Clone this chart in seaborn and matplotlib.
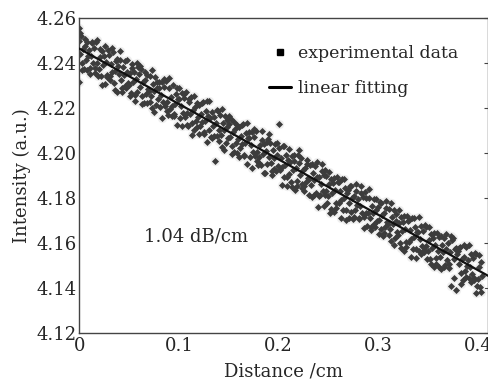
import numpy as np
import pandas as pd
import matplotlib
matplotlib.use("Agg")
import matplotlib.pyplot as plt
from matplotlib.lines import Line2D
from matplotlib.ticker import MultipleLocator
import seaborn as sns

distance = [
    0.000, 0.001, 0.002, 0.003, 0.004, 0.005, 0.006, 0.007, 0.008, 0.009,
    0.010, 0.011, 0.012, 0.013, 0.014, 0.015, 0.016, 0.017, 0.018, 0.019,
    0.020, 0.021, 0.022, 0.023, 0.024, 0.025, 0.026, 0.027, 0.028, 0.029,
    0.030, 0.031, 0.032, 0.033, 0.034, 0.035, 0.036, 0.037, 0.038, 0.039,
    0.040, 0.041, 0.042, 0.043, 0.044, 0.045, 0.046, 0.047, 0.048, 0.049,
    0.050, 0.051, 0.052, 0.053, 0.054, 0.055, 0.056, 0.057, 0.058, 0.059,
    0.060, 0.061, 0.062, 0.063, 0.064, 0.065, 0.066, 0.067, 0.068, 0.069,
    0.070, 0.071, 0.072, 0.073, 0.074, 0.075, 0.076, 0.077, 0.078, 0.079,
    0.080, 0.081, 0.082, 0.083, 0.084, 0.085, 0.086, 0.087, 0.088, 0.089,
    0.090, 0.091, 0.092, 0.093, 0.094, 0.095, 0.096, 0.097, 0.098, 0.099,
    0.100, 0.101, 0.102, 0.103, 0.104, 0.105, 0.106, 0.107, 0.108, 0.109,
    0.110, 0.111, 0.112, 0.113, 0.114, 0.115, 0.116, 0.117, 0.118, 0.119,
    0.120, 0.121, 0.122, 0.123, 0.124, 0.125, 0.126, 0.127, 0.128, 0.129,
    0.130, 0.131, 0.132, 0.133, 0.134, 0.135, 0.136, 0.137, 0.138, 0.139,
    0.140, 0.141, 0.142, 0.143, 0.144, 0.145, 0.146, 0.147, 0.148, 0.149,
    0.150, 0.151, 0.152, 0.153, 0.154, 0.155, 0.156, 0.157, 0.158, 0.159,
    0.160, 0.161, 0.162, 0.163, 0.164, 0.165, 0.166, 0.167, 0.168, 0.169,
    0.170, 0.171, 0.172, 0.173, 0.174, 0.175, 0.176, 0.177, 0.178, 0.179,
    0.180, 0.181, 0.182, 0.183, 0.184, 0.185, 0.186, 0.187, 0.188, 0.189,
    0.190, 0.191, 0.192, 0.193, 0.194, 0.195, 0.196, 0.197, 0.198, 0.199,
    0.200, 0.201, 0.202, 0.203, 0.204, 0.205, 0.206, 0.207, 0.208, 0.209,
    0.210, 0.211, 0.212, 0.213, 0.214, 0.215, 0.216, 0.217, 0.218, 0.219,
    0.220, 0.221, 0.222, 0.223, 0.224, 0.225, 0.226, 0.227, 0.228, 0.229,
    0.230, 0.231, 0.232, 0.233, 0.234, 0.235, 0.236, 0.237, 0.238, 0.239,
    0.240, 0.241, 0.242, 0.243, 0.244, 0.245, 0.246, 0.247, 0.248, 0.249,
    0.250, 0.251, 0.252, 0.253, 0.254, 0.255, 0.256, 0.257, 0.258, 0.259,
    0.260, 0.261, 0.262, 0.263, 0.264, 0.265, 0.266, 0.267, 0.268, 0.269,
    0.270, 0.271, 0.272, 0.273, 0.274, 0.275, 0.276, 0.277, 0.278, 0.279,
    0.280, 0.281, 0.282, 0.283, 0.284, 0.285, 0.286, 0.287, 0.288, 0.289,
    0.290, 0.291, 0.292, 0.293, 0.294, 0.295, 0.296, 0.297, 0.298, 0.299,
    0.300, 0.301, 0.302, 0.303, 0.304, 0.305, 0.306, 0.307, 0.308, 0.309,
    0.310, 0.311, 0.312, 0.313, 0.314, 0.315, 0.316, 0.317, 0.318, 0.319,
    0.320, 0.321, 0.322, 0.323, 0.324, 0.325, 0.326, 0.327, 0.328, 0.329,
    0.330, 0.331, 0.332, 0.333, 0.334, 0.335, 0.336, 0.337, 0.338, 0.339,
    0.340, 0.341, 0.342, 0.343, 0.344, 0.345, 0.346, 0.347, 0.348, 0.349,
    0.350, 0.351, 0.352, 0.353, 0.354, 0.355, 0.356, 0.357, 0.358, 0.359,
    0.360, 0.361, 0.362, 0.363, 0.364, 0.365, 0.366, 0.367, 0.368, 0.369,
    0.370, 0.371, 0.372, 0.373, 0.374, 0.375, 0.376, 0.377, 0.378, 0.379,
    0.380, 0.381, 0.382, 0.383, 0.384, 0.385, 0.386, 0.387, 0.388, 0.389,
    0.390, 0.391, 0.392, 0.393, 0.394, 0.395, 0.396, 0.397, 0.398, 0.399,
    0.400, 0.401, 0.402, 0.403, 0.404,
    0.000, 0.000,
]
intensity = [
    4.2500, 4.2443, 4.2520, 4.2403, 4.2465, 4.2373, 4.2475, 4.2413, 4.2495, 4.2433,
    4.2460, 4.2378, 4.2430, 4.2488, 4.2400, 4.2468, 4.2380, 4.2493, 4.2400, 4.2343,
    4.2376, 4.2429, 4.2341, 4.2454, 4.2391, 4.2434, 4.2306, 4.2404, 4.2346, 4.2459,
    4.2436, 4.2344, 4.2396, 4.2359, 4.2451, 4.2314, 4.2366, 4.2409, 4.2271, 4.2389,
    4.2351, 4.2414, 4.2326, 4.2274, 4.2381, 4.2349, 4.2411, 4.2289, 4.2361, 4.2314,
    4.2302, 4.2355, 4.2267, 4.2380, 4.2317, 4.2360, 4.2232, 4.2330, 4.2272, 4.2385,
    4.2352, 4.2295, 4.2372, 4.2255, 4.2317, 4.2225, 4.2327, 4.2265, 4.2347, 4.2285,
    4.2278, 4.2341, 4.2253, 4.2201, 4.2308, 4.2276, 4.2338, 4.2216, 4.2288, 4.2241,
    4.2288, 4.2206, 4.2258, 4.2316, 4.2228, 4.2296, 4.2208, 4.2321, 4.2228, 4.2171,
    4.2288, 4.2196, 4.2248, 4.2211, 4.2303, 4.2166, 4.2218, 4.2261, 4.2123, 4.2241,
    4.2239, 4.2157, 4.2209, 4.2267, 4.2179, 4.2247, 4.2159, 4.2272, 4.2179, 4.2122,
    4.2229, 4.2172, 4.2249, 4.2132, 4.2194, 4.2102, 4.2204, 4.2142, 4.2224, 4.2162,
    4.2214, 4.2122, 4.2174, 4.2137, 4.2229, 4.2092, 4.2144, 4.2187, 4.2049, 4.2167,
    4.2105, 4.2158, 4.2070, 4.2183, 4.2120, 4.2163, 4.1965, 4.2133, 4.2075, 4.2188,
    4.2105, 4.2168, 4.2080, 4.2028, 4.2135, 4.2103, 4.2165, 4.2043, 4.2115, 4.2068,
    4.2131, 4.2074, 4.2151, 4.2034, 4.2096, 4.2004, 4.2106, 4.2044, 4.2126, 4.2064,
    4.2116, 4.2024, 4.2076, 4.2039, 4.2131, 4.1994, 4.2046, 4.2089, 4.1951, 4.2069,
    4.2066, 4.1984, 4.2036, 4.2094, 4.2006, 4.2074, 4.1986, 4.2099, 4.2006, 4.1949,
    4.1982, 4.2035, 4.1947, 4.2060, 4.1997, 4.2040, 4.1912, 4.2010, 4.1952, 4.2065,
    4.1982, 4.2045, 4.1957, 4.1905, 4.2012, 4.1980, 4.2042, 4.1920, 4.1992, 4.1945,
    4.2130, 4.1925, 4.1977, 4.1940, 4.2032, 4.1895, 4.1947, 4.1990, 4.1852, 4.1970,
    4.1908, 4.1961, 4.1873, 4.1986, 4.1923, 4.1966, 4.1838, 4.1936, 4.1878, 4.1991,
    4.1958, 4.1901, 4.1978, 4.1861, 4.1923, 4.1831, 4.1933, 4.1871, 4.1953, 4.1891,
    4.1884, 4.1947, 4.1859, 4.1807, 4.1914, 4.1882, 4.1944, 4.1822, 4.1894, 4.1760,
    4.1894, 4.1812, 4.1864, 4.1922, 4.1834, 4.1902, 4.1814, 4.1927, 4.1834, 4.1777,
    4.1809, 4.1862, 4.1734, 4.1887, 4.1824, 4.1867, 4.1739, 4.1837, 4.1779, 4.1892,
    4.1870, 4.1778, 4.1830, 4.1793, 4.1885, 4.1748, 4.1800, 4.1843, 4.1705, 4.1823,
    4.1835, 4.1778, 4.1855, 4.1738, 4.1800, 4.1708, 4.1810, 4.1748, 4.1830, 4.1768,
    4.1795, 4.1713, 4.1765, 4.1823, 4.1735, 4.1803, 4.1715, 4.1828, 4.1735, 4.1678,
    4.1736, 4.1799, 4.1711, 4.1659, 4.1766, 4.1734, 4.1796, 4.1674, 4.1746, 4.1699,
    4.1761, 4.1704, 4.1781, 4.1664, 4.1726, 4.1634, 4.1736, 4.1674, 4.1756, 4.1694,
    4.1687, 4.1750, 4.1662, 4.1610, 4.1717, 4.1685, 4.1747, 4.1625, 4.1697, 4.1650,
    4.1637, 4.1690, 4.1602, 4.1715, 4.1652, 4.1695, 4.1567, 4.1665, 4.1607, 4.1720,
    4.1697, 4.1605, 4.1657, 4.1620, 4.1712, 4.1575, 4.1627, 4.1670, 4.1532, 4.1650,
    4.1648, 4.1566, 4.1618, 4.1676, 4.1588, 4.1656, 4.1568, 4.1681, 4.1588, 4.1531,
    4.1563, 4.1616, 4.1528, 4.1641, 4.1578, 4.1621, 4.1493, 4.1591, 4.1533, 4.1646,
    4.1563, 4.1626, 4.1538, 4.1486, 4.1593, 4.1561, 4.1623, 4.1501, 4.1573, 4.1526,
    4.1599, 4.1507, 4.1559, 4.1410, 4.1614, 4.1623, 4.1529, 4.1572, 4.1390, 4.1552,
    4.1564, 4.1507, 4.1584, 4.1467, 4.1529, 4.1437, 4.1539, 4.1477, 4.1585, 4.1497,
    4.1525, 4.1443, 4.1495, 4.1553, 4.1465, 4.1533, 4.1445, 4.1558, 4.1380, 4.1408,
    4.1440, 4.1493, 4.1405, 4.1518, 4.1455,
    4.2556, 4.2315,
]

# second group of points, the outer part of the cloud
distance_outer = [
    0.0005, 0.0030, 0.0055, 0.0080, 0.0105, 0.0130, 0.0155, 0.0180,
    0.0205, 0.0230, 0.0255, 0.0280, 0.0305, 0.0330, 0.0355, 0.0380,
    0.0405, 0.0430, 0.0455, 0.0480, 0.0505, 0.0530, 0.0555, 0.0580,
    0.0605, 0.0630, 0.0655, 0.0680, 0.0705, 0.0730, 0.0755, 0.0780,
    0.0805, 0.0830, 0.0855, 0.0880, 0.0905, 0.0930, 0.0955, 0.0980,
    0.1005, 0.1030, 0.1055, 0.1080, 0.1105, 0.1130, 0.1155, 0.1180,
    0.1205, 0.1230, 0.1255, 0.1280, 0.1305, 0.1330, 0.1355, 0.1380,
    0.1405, 0.1430, 0.1455, 0.1480, 0.1505, 0.1530, 0.1555, 0.1580,
    0.1605, 0.1630, 0.1655, 0.1680, 0.1705, 0.1730, 0.1755, 0.1780,
    0.1805, 0.1830, 0.1855, 0.1880, 0.1905, 0.1930, 0.1955, 0.1980,
    0.2005, 0.2030, 0.2055, 0.2080, 0.2105, 0.2130, 0.2155, 0.2180,
    0.2205, 0.2230, 0.2255, 0.2280, 0.2305, 0.2330, 0.2355, 0.2380,
    0.2405, 0.2430, 0.2455, 0.2480, 0.2505, 0.2530, 0.2555, 0.2580,
    0.2605, 0.2630, 0.2655, 0.2680, 0.2705, 0.2730, 0.2755, 0.2780,
    0.2805, 0.2830, 0.2855, 0.2880, 0.2905, 0.2930, 0.2955, 0.2980,
    0.3005, 0.3030, 0.3055, 0.3080, 0.3105, 0.3130, 0.3155, 0.3180,
    0.3205, 0.3230, 0.3255, 0.3280, 0.3305, 0.3330, 0.3355, 0.3380,
    0.3405, 0.3430, 0.3455, 0.3480, 0.3505, 0.3530, 0.3555, 0.3580,
    0.3605, 0.3630, 0.3655, 0.3680, 0.3705, 0.3730, 0.3755, 0.3780,
    0.3805, 0.3830, 0.3855, 0.3880, 0.3905, 0.3930, 0.3955, 0.3980,
    0.4005, 0.4030,
]
intensity_outer = [
    4.2534, 4.2368, 4.2507, 4.2371, 4.2354, 4.2493, 4.2357, 4.2501,
    4.2465, 4.2304, 4.2478, 4.2337, 4.2325, 4.2469, 4.2283, 4.2417,
    4.2455, 4.2289, 4.2298, 4.2412, 4.2256, 4.2395, 4.2259, 4.2403,
    4.2386, 4.2220, 4.2359, 4.2223, 4.2226, 4.2370, 4.2184, 4.2318,
    4.2317, 4.2156, 4.2330, 4.2189, 4.2332, 4.2166, 4.2175, 4.2289,
    4.2288, 4.2122, 4.2261, 4.2125, 4.2243, 4.2082, 4.2256, 4.2115,
    4.2083, 4.2222, 4.2086, 4.2230, 4.2234, 4.2068, 4.2077, 4.2191,
    4.2054, 4.2198, 4.2012, 4.2146, 4.2164, 4.1998, 4.2137, 4.2001,
    4.1985, 4.2124, 4.1988, 4.2132, 4.2095, 4.1934, 4.2108, 4.1967,
    4.1956, 4.2100, 4.1914, 4.2048, 4.2086, 4.1920, 4.1929, 4.2043,
    4.2021, 4.1860, 4.2034, 4.1893, 4.2017, 4.1851, 4.1990, 4.1854,
    4.2012, 4.1846, 4.1855, 4.1969, 4.1812, 4.1951, 4.1815, 4.1959,
    4.1808, 4.1952, 4.1766, 4.1900, 4.1918, 4.1752, 4.1891, 4.1755,
    4.1874, 4.1713, 4.1887, 4.1746, 4.1714, 4.1853, 4.1717, 4.1861,
    4.1709, 4.1853, 4.1667, 4.1801, 4.1840, 4.1674, 4.1683, 4.1797,
    4.1640, 4.1779, 4.1643, 4.1787, 4.1636, 4.1780, 4.1594, 4.1728,
    4.1746, 4.1580, 4.1719, 4.1583, 4.1701, 4.1540, 4.1714, 4.1573,
    4.1717, 4.1551, 4.1560, 4.1674, 4.1672, 4.1506, 4.1645, 4.1509,
    4.1492, 4.1631, 4.1495, 4.1639, 4.1488, 4.1632, 4.1446, 4.1580,
    4.1578, 4.1417, 4.1591, 4.1450, 4.1594, 4.1428, 4.1437, 4.1551,
    4.1549, 4.1383,
]

# linear fit end points
fit_distance = [0.0, 0.41]
fit_intensity = [4.2465, 4.1455]

df = pd.DataFrame({"distance": distance + distance_outer,
                   "intensity": intensity + intensity_outer})
fit = pd.DataFrame({"distance": fit_distance, "intensity": fit_intensity})

sns.set_style("white")
plt.rcParams["font.family"] = ["DejaVu Serif"]

fig = plt.figure(figsize=(4.89, 3.79), dpi=100)
ax = fig.add_axes([0.162, 0.121, 0.836, 0.831])

# faint halo around the points, like in the scanned original
sns.scatterplot(data=df, x="distance", y="intensity", ax=ax, marker="o",
                s=45, color="#efefef", linewidth=0, zorder=1)
sns.scatterplot(data=df, x="distance", y="intensity", ax=ax, marker="D",
                s=13, color="#3c3c3c", linewidth=0, zorder=2)
sns.lineplot(data=fit, x="distance", y="intensity", ax=ax, color="#111111",
             linewidth=1.6, zorder=3)

ax.set_xlim(0, 0.41)
ax.set_ylim(4.12, 4.26)
ax.xaxis.set_minor_locator(MultipleLocator(0.05))
ax.set_xticks([0, 0.1, 0.2, 0.3, 0.4])
ax.set_xticklabels(["0", "0.1", "0.2", "0.3", "0.4"])
ax.set_yticks([4.12, 4.14, 4.16, 4.18, 4.20, 4.22, 4.24, 4.26])
ax.set_yticklabels(["4.12", "4.14", "4.16", "4.18", "4.20", "4.22", "4.24", "4.26"])
ax.tick_params(axis="both", which="both", direction="in", labelsize=13,
               color="#444444", width=0.8)
ax.tick_params(axis="x", which="both", length=3, pad=3)
ax.tick_params(axis="y", which="major", length=3, right=True, pad=2)
for s in ax.spines.values():
    s.set_color("#444444")
    s.set_linewidth(1.0)

ax.set_xlabel("Distance /cm", fontsize=13, labelpad=5)
ax.set_ylabel("Intensity (a.u.)", fontsize=13, labelpad=4)

ax.text(0.065, 4.163, "1.04 dB/cm", fontsize=13, va="center", ha="left")

handles = [
    Line2D([], [], marker="s", linestyle="none", color="black", markersize=5),
    Line2D([], [], color="black", linewidth=2.2),
]
ax.legend(handles, ["experimental data", "linear fitting"], frameon=False,
          fontsize=12.5, loc="upper left", bbox_to_anchor=(0.425, 0.965),
          handlelength=1.3, handletextpad=0.4, labelspacing=1.05)

fig.savefig("out.png", dpi=100)
